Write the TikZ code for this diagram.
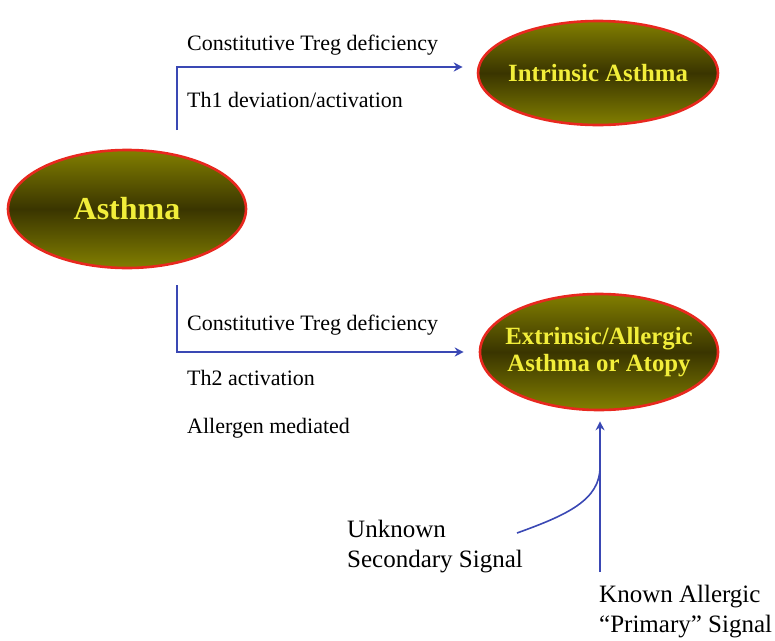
\documentclass[tikz,border=0pt]{standalone}
\usepackage{fontspec}
\setmainfont{Liberation Serif}
\usetikzlibrary{shapes.geometric,arrows.meta}
\definecolor{flowblue}{HTML}{3A48B4}
\definecolor{ringred}{HTML}{E8281F}
\definecolor{olivelight}{HTML}{827F00}
\definecolor{olivedark}{HTML}{3A3500}
\definecolor{labelyellow}{HTML}{F2EE3A}
\begin{document}
\begin{tikzpicture}[x=1pt,y=-1pt,
  disease/.style={ellipse, draw=ringred, line width=2.6pt,
    top color=olivelight, bottom color=olivelight, middle color=olivedark,
    inner sep=0pt},
  diseasetext/.style={inner sep=0pt, text=labelyellow, align=center},
  pathlabel/.style={anchor=base west, inner sep=0pt, font=\fontsize{22}{26}\selectfont},
  signal/.style={anchor=base west, inner sep=0pt, align=left, font=\fontsize{25}{29.5}\selectfont},
  flow/.style={draw=flowblue, line width=1.6pt, -{Stealth[length=9pt,width=9pt]}},
  feed/.style={draw=flowblue, line width=1.6pt}]
\useasboundingbox (0,0) rectangle (775,640);

% disease ellipses, with their names set on top
\node[disease, minimum width=238pt, minimum height=118pt] (asthma) at (127,209) {};
\node[diseasetext, font=\fontsize{32}{36}\bfseries\selectfont] (asthmaname) at (asthma) {Asthma};
\node[disease, minimum width=240pt, minimum height=104pt] (intr) at (598,73) {};
\node[diseasetext, font=\fontsize{24.8}{28}\bfseries\selectfont] (intrname) at (intr) {Intrinsic Asthma};
\node[disease, minimum width=238pt, minimum height=116pt] (extr) at (599,352) {};
\node[diseasetext, font=\fontsize{24.8}{27.5}\bfseries\selectfont] (extrname) at (extr) {Extrinsic/Allergic\\Asthma or Atopy};

% branch to intrinsic asthma
\coordinate (upstart) at (177,130);
\draw[flow] (upstart) |- ([shift={(-14,-6)}]intr.west);
\node[pathlabel] (ua) at (187,50) {Constitutive Treg deficiency};
\node[pathlabel] (ub) at (187,107) {Th1 deviation/activation};

% branch to extrinsic asthma
\coordinate (downstart) at (177,285);
\draw[flow] (downstart) |- ([shift={(-15,0)}]extr.west);
\node[pathlabel] (la) at (187,330) {Constitutive Treg deficiency};
\node[pathlabel] (lb) at (187,385) {Th2 activation};
\node[pathlabel] (lc) at (187,433) {Allergen mediated};

% signals (base anchor sits on the last line)
\node[signal] (secondary) at (347,567) {Unknown\\Secondary Signal};
\node[signal] (primary) at (599,632) {Known Allergic\\“Primary” Signal};
\coordinate (pstart) at (600,572);
\coordinate (sstart) at (517,533);
\coordinate (join) at (600,467);
\draw[flow] (pstart) -- ([shift={(1,10)}]extr.south);
\draw[feed] (sstart) .. controls (567,515) and (600,500) .. (join);
\end{tikzpicture}
\end{document}
